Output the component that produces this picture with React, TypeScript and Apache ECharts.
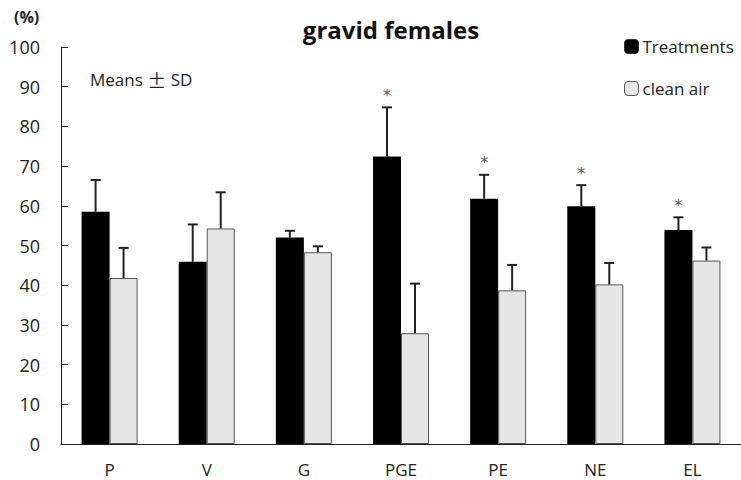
import React, { useEffect, useRef } from "react";
import * as echarts from "echarts";

const categories = ["P", "V", "G", "PGE", "PE", "NE", "EL"];
const treatMeans = [58.5, 45.9, 52.0, 72.4, 61.8, 59.9, 53.9];
const treatUpper = [66.5, 55.3, 53.7, 84.8, 67.8, 65.2, 57.1];
const cleanMeans = [41.8, 54.3, 48.3, 27.9, 38.7, 40.2, 46.2];
const cleanUpper = [49.4, 63.4, 49.8, 40.4, 45.1, 45.6, 49.5];
const treatStars = [0, 0, 0, 1, 1, 1, 1];
const yTicks = [0, 10, 20, 30, 40, 50, 60, 70, 80, 90, 100];

const FONT = "'Open Sans', Lato, sans-serif";
const BAR_W = 28;

function errorRender(offset: number) {
  return (params: any, api: any) => {
    const i = api.value(0);
    const base = api.coord([i, api.value(1)]);
    const top = api.coord([i, api.value(2)]);
    const x = base[0] + offset;
    const children: any[] = [
      {
        type: "line",
        shape: { x1: x, y1: base[1], x2: x, y2: top[1] },
        style: { stroke: "#222", lineWidth: 2 },
      },
      {
        type: "line",
        shape: { x1: x - 5, y1: top[1], x2: x + 5, y2: top[1] },
        style: { stroke: "#222", lineWidth: 2 },
      },
    ];
    if (api.value(3) === 1) {
      children.push({
        type: "text",
        x: x,
        y: top[1] - 12,
        style: {
          text: "*",
          fill: "#555",
          fontSize: 16,
          fontFamily: "DejaVu Sans, sans-serif",
          align: "center",
          verticalAlign: "middle",
        },
      });
    }
    return { type: "group", children };
  };
}

export default function App() {
  const ref = useRef<HTMLDivElement>(null);
  useEffect(() => {
    if (!ref.current) return;
    const chart = echarts.init(ref.current, null, { renderer: "svg" });
    chart.setOption({
      animation: false,
      backgroundColor: "#fff",
      title: {
        text: "gravid females",
        left: 386,
        textAlign: "center",
        top: 12,
        textStyle: { fontFamily: FONT, fontWeight: "bold", fontSize: 24, color: "#111" },
      },
      legend: {
        orient: "vertical",
        left: 619,
        top: 33,
        itemWidth: 14,
        itemHeight: 14,
        itemGap: 25,
        textStyle: { fontFamily: FONT, fontSize: 17, color: "#222", padding: [0, 0, 0, -1] },
        data: [
          { name: "Treatments", itemStyle: { color: "#000", borderColor: "#333", borderWidth: 1 } },
          { name: "clean air", itemStyle: { color: "#e6e6e6", borderColor: "#555", borderWidth: 1 } },
        ],
      },
      graphic: [
        {
          type: "text",
          left: 14,
          top: 9,
          style: { text: "(%)", fontFamily: FONT, fontSize: 16, fontWeight: "bold", fill: "#222" },
        },
        {
          type: "text",
          left: 90,
          top: 70,
          style: {
            text: "Means {pm|±} SD",
            fontFamily: FONT,
            fontSize: 17,
            fill: "#222",
            rich: {
              pm: { fontFamily: "'Noto Sans CJK JP', sans-serif", fontSize: 19, fill: "#222" },
            },
          },
        },
      ],
      grid: { left: 61, top: 47, bottom: 36, width: 684 },
      xAxis: {
        type: "category",
        data: categories,
        axisLine: { lineStyle: { color: "#222", width: 1 } },
        axisTick: { inside: true, length: 8, lineStyle: { color: "#222" } },
        axisLabel: { fontFamily: FONT, fontSize: 17, color: "#222", margin: 17 },
      },
      yAxis: {
        type: "value",
        min: yTicks[0],
        max: yTicks[yTicks.length - 1],
        interval: 10,
        axisLine: { show: true, lineStyle: { color: "#222", width: 1 } },
        axisTick: { show: true, inside: true, length: 7, lineStyle: { color: "#222" } },
        axisLabel: { fontFamily: FONT, fontSize: 18, color: "#222", margin: 21 },
        splitLine: { show: false },
      },
      series: [
        {
          name: "Treatments",
          type: "bar",
          data: treatMeans,
          barWidth: BAR_W,
          barGap: "0%",
          itemStyle: { color: "#000" },
        },
        {
          name: "clean air",
          type: "bar",
          data: cleanMeans,
          barWidth: BAR_W,
          barGap: "0%",
          itemStyle: { color: "#e6e6e6", borderColor: "#555", borderWidth: 1 },
        },
        {
          type: "custom",
          renderItem: errorRender(-BAR_W / 2),
          data: treatMeans.map((m, i) => [i, m, treatUpper[i], treatStars[i]]),
          z: 5,
        },
        {
          type: "custom",
          renderItem: errorRender(BAR_W / 2),
          data: cleanMeans.map((m, i) => [i, m, cleanUpper[i], 0]),
          z: 5,
        },
      ],
    });
    return () => chart.dispose();
  }, []);
  return (
    <div
      ref={ref}
      style={{ position: "absolute", left: 0, top: 0, width: 741, height: 480 }}
    />
  );
}
